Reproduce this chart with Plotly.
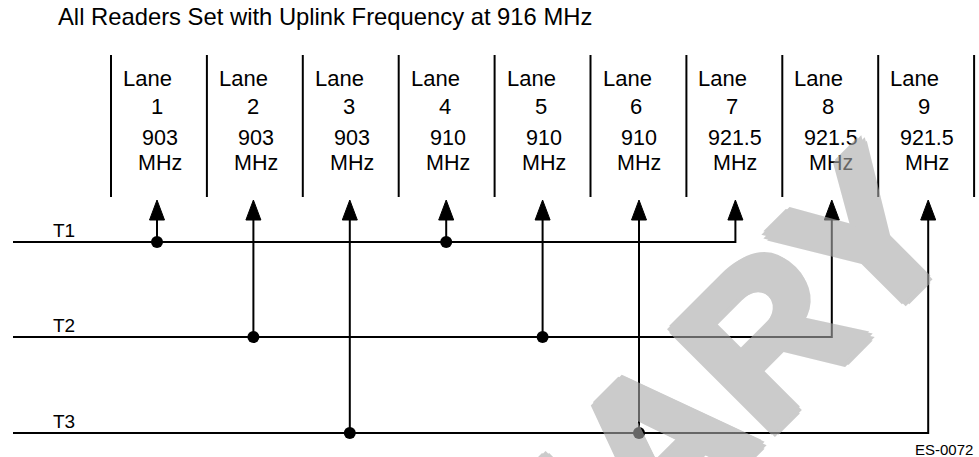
import plotly.graph_objects as go

# ---------------- data ----------------
title_text = "All Readers Set with Uplink Frequency at 916 MHz"
lanes = [1, 2, 3, 4, 5, 6, 7, 8, 9]
lane_freqs = ["903", "903", "903", "910", "910", "910", "921.5", "921.5", "921.5"]
transmitters = ["T1", "T2", "T3"]
t1_lanes = [1, 4, 7]
t2_lanes = [2, 5, 8]
t3_lanes = [3, 6, 9]
figure_code = "ES-0072"
watermark_text = "PRELIMINARY"

# ---------------- layout constants ----------------
W, H = 979, 457
SEP0, SEP_STEP = 111, 95.9
SEP_TOP, SEP_BOT = 55, 197
ARROW0, ARROW_STEP = 157, 96.4
TIP_Y, BASE_Y, HEAD_HALF = 200, 220, 7.5
TX_Y = [242, 337, 433]
LINE_X0 = 13
FONT = "Liberation Sans, Arial, sans-serif"
LW = 2

tx_lane_sets = [t1_lanes, t2_lanes, t3_lanes]


def lane_x(lane):
    return ARROW0 + (lane - 1) * ARROW_STEP


def cell_center(lane):
    return SEP0 + (lane - 0.5) * SEP_STEP


fig = go.Figure()

# lane separators
sx, sy = [], []
for i in range(len(lanes) + 1):
    s = SEP0 + i * SEP_STEP
    sx += [s, s, None]
    sy += [SEP_TOP, SEP_BOT, None]
fig.add_trace(go.Scatter(x=sx, y=sy, mode="lines",
                         line=dict(color="black", width=LW), hoverinfo="skip"))

# transmitter buses and feeds
dot_x, dot_y = [], []
for k, (tx, lset) in enumerate(zip(transmitters, tx_lane_sets)):
    yk = TX_Y[k]
    last = lset[-1]
    xs = [LINE_X0, lane_x(last), lane_x(last), None]
    ys = [yk, yk, BASE_Y, None]
    for ln in lset[:-1]:
        xs += [lane_x(ln), lane_x(ln), None]
        ys += [yk, BASE_Y, None]
        dot_x.append(lane_x(ln))
        dot_y.append(yk)
    fig.add_trace(go.Scatter(x=xs, y=ys, mode="lines",
                             line=dict(color="black", width=LW), hoverinfo="skip"))

# arrow heads
hx, hy = [], []
for ln in lanes:
    xa = lane_x(ln)
    hx += [xa - HEAD_HALF, xa, xa + HEAD_HALF, xa - HEAD_HALF, None]
    hy += [BASE_Y, TIP_Y, BASE_Y, BASE_Y, None]
fig.add_trace(go.Scatter(x=hx, y=hy, mode="lines", fill="toself",
                         fillcolor="black", line=dict(color="black", width=1),
                         hoverinfo="skip"))

# junction dots
fig.add_trace(go.Scatter(x=dot_x, y=dot_y, mode="markers",
                         marker=dict(color="black", size=12), hoverinfo="skip"))

ann = []


def txt(x, y_base, text, size, xanchor="center"):
    ann.append(dict(x=x, y=y_base - 0.35 * size, xref="x", yref="y",
                    text=text, showarrow=False, xanchor=xanchor, yanchor="middle",
                    borderpad=0, borderwidth=0,
                    font=dict(family=FONT, size=size, color="black")))


txt(58, 25, title_text, 23.8, "left")
for ln, fq in zip(lanes, lane_freqs):
    sep_left = SEP0 + (ln - 1) * SEP_STEP
    txt(sep_left + 12, 86, "Lane", 22, "left")
    txt(cell_center(ln) - 2, 114, str(ln), 22)
    txt(cell_center(ln) + 1, 146, fq, 21.5)
    txt(cell_center(ln) + 1, 170.5, "MHz", 21.5)

for k, tx in enumerate(transmitters):
    txt(53, TX_Y[k] - 5, tx, 19, "left")

txt(973, 455, figure_code, 15, "right")

# watermark (semi-transparent, drawn on top)
wm_col = "rgb(170,170,170)"
d = 5
shadow = ", ".join(f"{dx}px {dy}px 0 {wm_col}" for dx, dy in
                   [(d, 0), (-d, 0), (0, d), (0, -d), (4, 4), (-4, -4), (4, -4), (-4, 4)])
ann.append(dict(x=405 / W, y=1 - 698 / H, xref="paper", yref="paper",
                text=watermark_text, showarrow=False, textangle=-45,
                xanchor="center", yanchor="middle", opacity=0.6,
                font=dict(family=FONT, size=210, color=wm_col,
                          weight="bold", shadow=shadow)))

fig.update_layout(
    width=W, height=H, autosize=False,
    margin=dict(l=0, r=0, t=0, b=0, pad=0),
    paper_bgcolor="white", plot_bgcolor="white",
    showlegend=False,
    xaxis=dict(range=[0, W], visible=False, fixedrange=True),
    yaxis=dict(range=[H, 0], visible=False, fixedrange=True),
    annotations=ann,
)

fig.write_html("out.html", config={"displayModeBar": False},
               post_script="document.body.style.margin='0';")
